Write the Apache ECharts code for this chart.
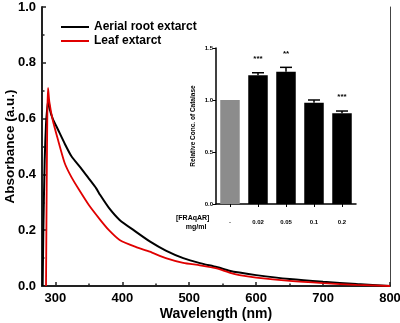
<!DOCTYPE html>
<html><head><meta charset="utf-8">
<script src="https://cdn.jsdelivr.net/npm/echarts@6/dist/echarts.min.js"></script>
<style>html,body{margin:0;padding:0;background:#fff}#c{width:400px;height:323px}</style>
</head><body><div id="c"></div>
<script>
// Main spectra
const blackWl  = [281, 282, 284, 286, 288, 289.5, 292, 296, 304, 314, 324, 339, 350, 361, 367, 380, 396, 420, 441, 465, 491, 516, 541, 560, 575, 600, 650, 700, 750, 800];
const blackAbs = [0, 0.2, 0.45, 0.58, 0.64, 0.665, 0.63, 0.6, 0.56, 0.51, 0.465, 0.42, 0.385, 0.35, 0.326, 0.28, 0.237, 0.195, 0.16, 0.127, 0.1, 0.082, 0.068, 0.055, 0.048, 0.039, 0.025, 0.015, 0.007, 0];
const redWl    = [286, 287, 288, 289, 291, 296, 304, 314, 324, 334, 350, 367, 380, 396, 420, 441, 465, 491, 516, 541, 560, 575, 600, 650, 700, 750, 800];
const redAbs   = [0, 0.35, 0.62, 0.71, 0.66, 0.595, 0.523, 0.44, 0.39, 0.35, 0.29, 0.237, 0.2, 0.165, 0.14, 0.123, 0.1, 0.083, 0.074, 0.063, 0.048, 0.039, 0.03, 0.018, 0.01, 0.004, 0];
const seriesNames = ['Aerial root extarct', 'Leaf extarct'];
const xTickLabels = [300, 400, 500, 600, 700, 800];
const xMinorTicks = [350, 450, 550, 650, 750];

// Inset bar chart
const insetCats   = ['-', '0.02', '0.05', '0.1', '0.2'];
const insetValues = [1.0, 1.237, 1.272, 0.974, 0.872];
const insetErrTop = [1.0, 1.262, 1.314, 1.0, 0.894];
const insetStars  = ['', '***', '**', '', '***'];

const FF = '"Liberation Sans", Arial, sans-serif';
const chart = echarts.init(document.getElementById('c'), null, {renderer: 'canvas'});

const blackData = blackWl.map((x, i) => [x, blackAbs[i]]);
const redData = redWl.map((x, i) => [x, redAbs[i]]);
const barData = insetValues.map((v, i) => ({
  value: v,
  itemStyle: {color: i === 0 ? '#8c8c8c' : '#000'}
}));
const errData = insetValues.map((v, i) => [i, v, insetErrTop[i]]);

chart.setOption({
  animation: false,
  backgroundColor: '#fff',
  textStyle: {fontFamily: FF},
  grid: [
    {left: 42, right: 10, top: 7, bottom: 37, outerBoundsMode: 'none', containLabel: false},
    {left: 216, right: 44, top: 48, bottom: 119, outerBoundsMode: 'none', containLabel: false}
  ],
  legend: {
    left: 56, top: 16, orient: 'vertical', itemGap: 2,
    itemWidth: 28, itemHeight: 2, icon: 'rect',
    textStyle: {fontFamily: FF, fontWeight: 'bold', fontSize: 12, color: '#000'},
    data: seriesNames
  },
  xAxis: [
    {
      type: 'value', gridIndex: 0, min: 280, max: 800,
      name: 'Wavelength (nm)', nameLocation: 'middle', nameGap: 21, nameMoveOverlap: false,
      nameTextStyle: {fontFamily: FF, fontWeight: 'bold', fontSize: 14, color: '#000'},
      axisLine: {show: true, onZero: false, lineStyle: {color: '#222', width: 2}},
      axisTick: {show: true, inside: true, length: 4, customValues: xTickLabels, lineStyle: {color: '#222', width: 1.5}},
      axisLabel: {customValues: xTickLabels, fontFamily: FF, fontWeight: 'bold', fontSize: 13, color: '#000', margin: 6},
      splitLine: {show: false}
    },
    {
      type: 'value', gridIndex: 0, min: 280, max: 800, position: 'bottom',
      axisLine: {show: false},
      axisTick: {show: true, inside: true, length: 2.5, customValues: xMinorTicks, lineStyle: {color: '#222', width: 1.5}},
      axisLabel: {show: false},
      splitLine: {show: false}
    },
    {
      type: 'category', gridIndex: 1, data: insetCats,
      axisLine: {show: true, lineStyle: {color: '#000', width: 1.5}},
      axisTick: {show: true, alignWithLabel: true, length: 3, lineStyle: {color: '#000'}},
      axisLabel: {fontFamily: FF, fontWeight: 'bold', fontSize: 6, color: '#000', margin: 15},
      splitLine: {show: false}
    }
  ],
  yAxis: [
    {
      type: 'value', gridIndex: 0, min: 0, max: 1, interval: 0.2,
      name: 'Absorbance (a.u.)', nameLocation: 'middle', nameGap: 25, nameMoveOverlap: false,
      nameTextStyle: {fontFamily: FF, fontWeight: 'bold', fontSize: 13.5, color: '#000'},
      axisLine: {show: true, lineStyle: {color: '#222', width: 2}},
      axisTick: {show: true, inside: true, length: 4, lineStyle: {color: '#222', width: 1.5}},
      minorTick: {show: true, splitNumber: 2, length: 2.5, lineStyle: {color: '#222', width: 1.5}},
      axisLabel: {fontFamily: FF, fontWeight: 'bold', fontSize: 13, color: '#000', margin: 6,
        formatter: v => v.toFixed(1)},
      splitLine: {show: false}
    },
    {
      type: 'value', gridIndex: 0, min: 0, max: 1, position: 'right',
      axisLine: {show: true, lineStyle: {color: '#444', width: 1}},
      axisTick: {show: false}, axisLabel: {show: false}, splitLine: {show: false}
    },
    {
      type: 'value', gridIndex: 1, min: 0, max: 1.5, interval: 0.5,
      name: 'Relative Conc. of Catalase', nameLocation: 'middle', nameGap: 19, nameMoveOverlap: false,
      nameTextStyle: {fontFamily: FF, fontWeight: 'bold', fontSize: 6.5, color: '#000'},
      axisLine: {show: true, lineStyle: {color: '#000', width: 1.5}},
      axisTick: {show: true, length: 3, lineStyle: {color: '#000'}},
      axisLabel: {fontFamily: FF, fontWeight: 'bold', fontSize: 6, color: '#000', margin: 3,
        formatter: v => v.toFixed(1)},
      splitLine: {show: false}
    }
  ],
  graphic: [
    {type: 'text', left: 176, top: 214, style: {text: '[FRAqAR]\n     mg/ml', fontFamily: FF, fontWeight: 'bold', fontSize: 7, lineHeight: 8.5, fill: '#000'}}
  ],
  series: [
    {
      name: seriesNames[0], type: 'line', xAxisIndex: 0, yAxisIndex: 0,
      data: blackData, symbol: 'none', smooth: 0.2,
      lineStyle: {color: '#000', width: 2}, itemStyle: {color: '#000'}, z: 3
    },
    {
      name: seriesNames[1], type: 'line', xAxisIndex: 0, yAxisIndex: 0,
      data: redData, symbol: 'none', smooth: 0.2,
      lineStyle: {color: '#e00000', width: 1.8}, itemStyle: {color: '#e00000'}, z: 4
    },
    {
      type: 'bar', xAxisIndex: 2, yAxisIndex: 2, data: barData, barWidth: 19.5
    },
    {
      type: 'custom', xAxisIndex: 2, yAxisIndex: 2, data: errData, z: 5,
      renderItem: function (params, api) {
        const i = api.value(0);
        const p1 = api.coord([i, api.value(1)]);
        const p2 = api.coord([i, api.value(2)]);
        const stars = insetStars[params.dataIndex];
        const cap = 6;
        const children = [];
        if (p2[1] < p1[1] - 0.5) {
          children.push({type: 'line', shape: {x1: p1[0], y1: p1[1], x2: p2[0], y2: p2[1]}, style: {stroke: '#000', lineWidth: 1.5}});
          children.push({type: 'line', shape: {x1: p2[0] - cap, y1: p2[1], x2: p2[0] + cap, y2: p2[1]}, style: {stroke: '#000', lineWidth: 1.5}});
        }
        if (stars) {
          children.push({type: 'text', x: p2[0], y: p2[1] - 14, style: {text: stars, fontFamily: FF, fontWeight: 'bold', fontSize: 8, fill: '#000', align: 'center', verticalAlign: 'middle'}});
        }
        return {type: 'group', children: children};
      }
    }
  ]
});
</script>
</body></html>
